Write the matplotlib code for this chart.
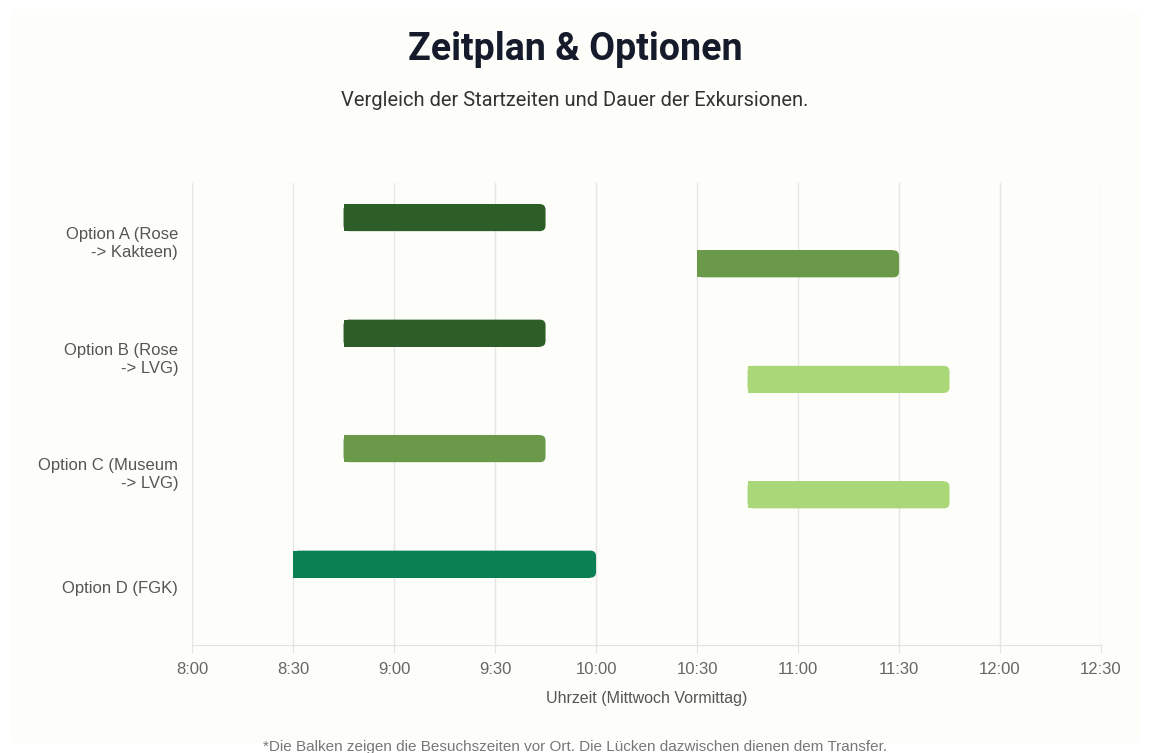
import matplotlib
matplotlib.use("Agg")
import matplotlib.pyplot as plt
from matplotlib.patches import FancyBboxPatch
from matplotlib.ticker import FuncFormatter, MultipleLocator

# Daten: Besuchszeiten (Stunden, dezimal)
categories = ["Option A (Rose\n-> Kakteen)", "Option B (Rose\n-> LVG)",
              "Option C (Museum\n-> LVG)", "Option D (FGK)"]
visit1_start = [8.75, 8.75, 8.75, 8.5]
visit1_end = [9.75, 9.75, 9.75, 10.0]
visit2_start = [10.5, 10.75, 10.75, None]
visit2_end = [11.5, 11.75, 11.75, None]
colors1 = ["#2e5e27", "#2e5e27", "#6b994a", "#0b8052"]
colors2 = ["#6b994a", "#aad879", "#aad879", None]

TITLE = "Zeitplan & Optionen"
SUBTITLE = "Vergleich der Startzeiten und Dauer der Exkursionen."
XLABEL = "Uhrzeit (Mittwoch Vormittag)"
NOTE = "*Die Balken zeigen die Besuchszeiten vor Ort. Die Lücken dazwischen dienen dem Transfer."

fig = plt.figure(figsize=(11.5, 7.53), dpi=100)
fig.patch.set_facecolor("white")
card = FancyBboxPatch((0.009, 0.013), 0.982, 0.974, boxstyle="round,pad=0,rounding_size=0.01",
                      transform=fig.transFigure, facecolor="#fdfdf9", edgecolor="none", zorder=-10)
fig.patches.append(card)

ax = fig.add_axes([0.167, 0.1434, 0.7904, 0.6136])
ax.set_facecolor("none")

BAR_H = 0.234
OFF = 0.2
RAD = 0.028  # Rundung rechts (in Stunden)
ASPECT = 1.75


def rounded_bar(y, start, end, color):
    # linker Teil eckig, rechte Ecken gerundet
    ax.barh(y, end - start - RAD, left=start, height=BAR_H, color=color, zorder=3)
    p = FancyBboxPatch((start, y - BAR_H / 2), end - start, BAR_H,
                       boxstyle=f"round,pad=0,rounding_size={RAD}",
                       mutation_aspect=ASPECT, facecolor=color, edgecolor="none", zorder=3)
    ax.add_patch(p)


for i in range(len(categories)):
    rounded_bar(i - OFF, visit1_start[i], visit1_end[i], colors1[i])
    if visit2_start[i] is not None:
        rounded_bar(i + OFF, visit2_start[i], visit2_end[i], colors2[i])

ax.set_xlim(8.0, 12.5)
ax.set_ylim(3.5, -0.5)
ax.xaxis.set_major_locator(MultipleLocator(0.5))
ax.xaxis.set_major_formatter(FuncFormatter(lambda v, _: f"{int(v)}:{int(round((v % 1) * 60)):02d}"))
ax.set_yticks(range(len(categories)))
ax.set_yticklabels(categories, fontsize=12, color="#555555", family="Liberation Sans",
                   ha="right", linespacing=1.25)
for lbl in ax.get_yticklabels():
    lbl.set_va("center_baseline")

ax.grid(axis="x", color="#e6e6e6", linewidth=1, zorder=0)
for s in ["top", "right", "left"]:
    ax.spines[s].set_visible(False)
ax.spines["bottom"].set_color("#e3e3e3")
ax.tick_params(axis="x", length=6, color="#e3e3e3", pad=6, labelsize=12, labelcolor="#666666")
ax.tick_params(axis="y", length=0, pad=10)
for lbl in ax.get_xticklabels():
    lbl.set_family("Liberation Sans")

ax.set_xlabel(XLABEL, fontsize=11.5, color="#555555", family="Liberation Sans", labelpad=10)

fig.text(0.5, 0.934, TITLE, ha="center", va="center", fontsize=27, fontweight="bold",
         color="#161b2b", family="Roboto")
fig.text(0.5, 0.866, SUBTITLE, ha="center", va="center", fontsize=14.5, color="#333333",
         family="Roboto")
fig.text(0.5, 0.008, NOTE, ha="center", va="center", fontsize=11, color="#777777",
         family="Liberation Sans")

fig.savefig("out.png", dpi=100, facecolor=fig.get_facecolor())
